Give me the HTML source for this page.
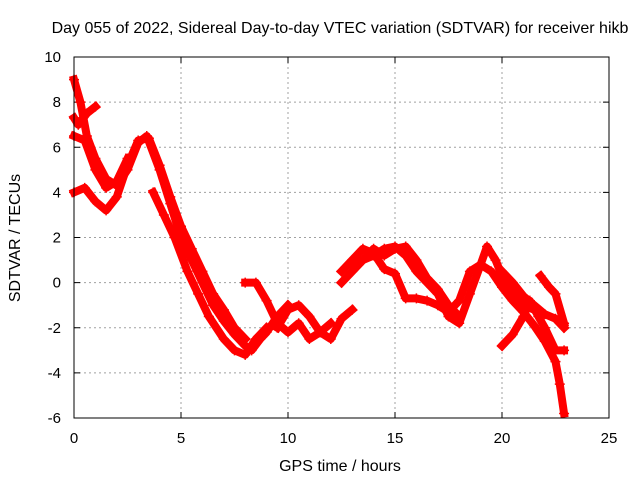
<!DOCTYPE html>
<html><head><meta charset="utf-8"><style>
body{margin:0;background:#fff}
svg{font-family:"Liberation Sans",sans-serif;font-size:15px}
</style></head><body>
<svg id="chart" width="640" height="480" viewBox="0 0 640 480" xmlns="http://www.w3.org/2000/svg">
<text x="340" y="33" text-anchor="middle" font-size="16">Day 055 of 2022, Sidereal Day-to-day VTEC variation (SDTVAR) for receiver hikb</text>
<g id="grid"></g>
<g id="ticks"></g>
<g id="series"></g>
<rect x="74" y="57" width="535" height="361" fill="none" stroke="#000" stroke-width="1"/>
<text x="340" y="471" text-anchor="middle" font-size="16">GPS time / hours</text>
<text transform="translate(20,238) rotate(-90)" text-anchor="middle" font-size="16">SDTVAR / TECUs</text>
</svg>
<script>
const xTicks=[0,5,10,15,20,25];
const yTicks=[-6,-4,-2,0,2,4,6,8,10];
const trackA=[[0,9],[0.3,8],[0.6,6.5],[1,5.5],[1.5,4.6],[2,4.3],[2.5,5],[3,6.2],[3.4,6.5],[4,5],[4.5,3.5],[5,2],[5.5,1],[6,0],[6.5,-1],[7,-1.7],[7.5,-2.3],[8,-2.8],[8.3,-3],[8.7,-2.5],[9,-2.2],[9.5,-1.5],[10,-1]];
const trackB=[[0,4],[0.5,4.2],[1,3.6],[1.5,3.2],[2,3.8],[2.5,5.2],[3,6.3],[3.5,6.4],[4,5.2],[4.5,3.8],[5,2.5],[5.5,1.5],[6,0.5],[6.5,-0.5],[7,-1.2],[7.5,-2],[8,-2.5]];
const trackC=[[0,7.3],[0.2,7],[0.6,7.5],[1,7.8]];
const trackD=[[0,6.5],[0.5,6.3],[1,5],[1.5,4.2],[2,4.5],[2.5,5.5]];
const trackE=[[3.7,4],[4.2,3],[4.7,2],[5.3,0.5],[5.8,-0.5],[6.3,-1.5],[7,-2.5],[7.5,-3],[8,-3.2],[8.5,-2.5],[9,-2]];
const trackF=[[8,0],[8.5,0],[9,-0.8],[9.5,-1.8],[10,-2.2],[10.5,-1.8],[11,-2.5],[11.5,-2.2],[12,-1.8]];
const trackG=[[9.5,-2],[10,-1.2],[10.5,-1],[11,-1.5],[11.5,-2.2],[12,-2.5],[12.5,-1.6],[13,-1.2]];
const trackH=[[12.5,0],[13,0.5],[13.5,1],[14,1.2],[14.5,1.5],[15,1.6],[15.5,1.2],[16,0.5],[16.5,0],[17,-0.5],[17.5,-1.5],[18,-1.8],[18.5,-0.5],[19,0.8],[19.3,1.6],[19.7,1],[20,0.3],[20.5,-0.5],[21,-1],[21.5,-1.2]];
const trackI=[[12.5,0.5],[13,1],[13.5,1.5],[14,1.3],[14.5,0.6],[15,0.4],[15.5,-0.7],[16,-0.7],[16.5,-0.8],[17,-1],[17.5,-1.3],[18,-0.8],[18.5,0.5],[19,0.8],[19.5,0.5],[20,-0.2],[20.5,-0.8],[21,-1.3],[21.5,-1.9],[22,-2.6],[22.5,-3.5],[22.7,-4.5],[22.9,-5.8]];
const trackJ=[[13,0.8],[13.5,1],[14,1.5],[14.5,1.2],[15,1.5],[15.5,1.6],[16,1],[16.5,0.2],[17,-0.3],[17.5,-1],[18,-1.5]];
const trackK=[[20,0.5],[20.5,0],[21,-0.6],[21.5,-1],[22,-1.4],[22.5,-1.6],[22.9,-2]];
const trackL=[[20,-2.8],[20.5,-2.3],[21,-1.5],[21.3,-0.8],[21.7,-1.5],[22,-2],[22.5,-3],[22.9,-3]];
const trackM=[[21.8,0.3],[22.2,-0.2],[22.5,-0.5],[22.9,-1.8]];
const tracks=[trackA,trackB,trackC,trackD,trackE,trackF,trackG,trackH,trackI,trackJ,trackK,trackL,trackM];
const X0=74,X1=609,Y0=418,Y1=57;
const sx=v=>X0+(v-0)/25*(X1-X0);
const sy=v=>Y0-(v+6)/16*(Y0-Y1);
const NS="http://www.w3.org/2000/svg";
const grid=document.getElementById('grid'),ticks=document.getElementById('ticks'),series=document.getElementById('series');
function mk(t,a,p){const e=document.createElementNS(NS,t);for(const k in a)e.setAttribute(k,a[k]);p.appendChild(e);return e;}
xTicks.forEach(v=>{
 const x=sx(v);
 if(v>0&&v<25){const g=mk('line',{x1:x,x2:x,y1:Y1,y2:Y0,stroke:'#a0a0a0','stroke-dasharray':'2,3'},grid);
 
 }
 const t=mk('text',{x:x,y:Y0+25,'text-anchor':'middle'},ticks);t.textContent=v;
 
 
 mk('line',{x1:x,x2:x,y1:Y0,y2:Y0-6,stroke:'#000'},ticks);mk('line',{x1:x,x2:x,y1:Y1,y2:Y1+6,stroke:'#000'},ticks);
});
yTicks.forEach(v=>{
 const y=sy(v);
 if(v>-6&&v<10){const g=mk('line',{x1:X0,x2:X1,y1:y,y2:y,stroke:'#a0a0a0','stroke-dasharray':'2,3'},grid);
 
 }
 const t=mk('text',{x:X0-13,y:y+5,'text-anchor':'end'},ticks);t.textContent=v;
 
 
 mk('line',{x1:X0,x2:X0+6,y1:y,y2:y,stroke:'#000'},ticks);mk('line',{x1:X1,x2:X1-6,y1:y,y2:y,stroke:'#000'},ticks);
});
tracks.forEach(tr=>{
 const pts=tr.map(p=>sx(p[0])+','+sy(p[1])).join(' ');
 const pl=mk('polyline',{points:pts,fill:'none',stroke:'#ff0000','stroke-width':8,'stroke-linejoin':'round','stroke-linecap':'square'},series);
 
 
 tr.forEach(p=>{const x=sx(p[0]),y=sy(p[1]);
  const m=mk('path',{d:`M${x-5},${y}H${x+5}M${x},${y-5}V${y+5}`,stroke:'#ff0000','stroke-width':1.5},series);
  
  });
});
</script>
</body></html>
